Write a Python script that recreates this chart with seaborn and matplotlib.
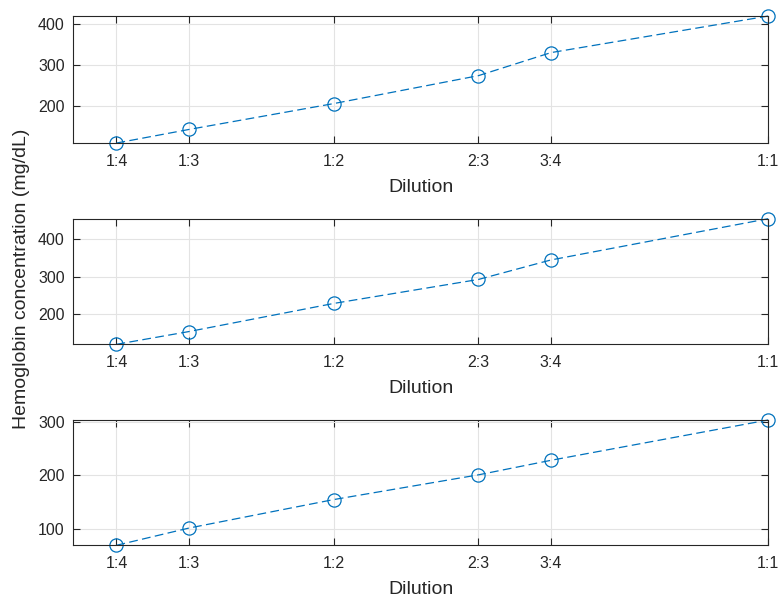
import numpy as np
import pandas as pd
import matplotlib
matplotlib.use('Agg')
import matplotlib.pyplot as plt
import seaborn as sns

# ---------------------------------------------------------
# Data
# ---------------------------------------------------------
dilution_labels = ['1:4', '1:3', '1:2', '2:3', '3:4', '1:1']
dilution_values = [1/4, 1/3, 1/2, 2/3, 3/4, 1.0]

hb_panel1 = [110, 143, 206, 274, 330, 419]
hb_panel2 = [120, 154, 229, 293, 345, 455]
hb_panel3 = [70, 102, 155, 201, 228, 303]

yticks_panel1 = [200, 300, 400]
yticks_panel2 = [200, 300, 400]
yticks_panel3 = [100, 200, 300]

line_color = '#0072BD'
text_color = '#262626'

sns.set_theme(style='whitegrid')
plt.rcParams['font.family'] = ['Liberation Sans', 'DejaVu Sans']

fig = plt.figure(figsize=(7.81, 6.01), dpi=100)

# axes boxes in figure coordinates [left, bottom, width, height]
positions = [
    [0.0935, 0.762, 0.890, 0.2113],
    [0.0935, 0.4271, 0.890, 0.209],
    [0.0935, 0.0927, 0.890, 0.2085],
]
panels = [hb_panel1, hb_panel2, hb_panel3]
yticks_all = [yticks_panel1, yticks_panel2, yticks_panel3]

for pos, values, yticks in zip(positions, panels, yticks_all):
    ax = fig.add_axes(pos)
    df = pd.DataFrame({'dilution': dilution_values, 'hb': values})
    sns.lineplot(data=df, x='dilution', y='hb', ax=ax, color=line_color,
                 linestyle=(0, (7, 3.5)), linewidth=0.9, marker='o',
                 markersize=9.5, markerfacecolor='none',
                 markeredgecolor=line_color, markeredgewidth=0.9,
                 clip_on=False)
    ax.set_xlim(0.2, 1.0)
    ax.set_ylim(min(values), max(values))
    ax.set_xticks(dilution_values)
    ax.set_xticklabels(dilution_labels)
    ax.set_yticks(yticks)
    ax.set_xlabel('Dilution', fontsize=14, color=text_color, labelpad=7)
    ax.set_ylabel('')
    ax.set_facecolor('white')
    ax.grid(True, color='#e3e3e3', linewidth=0.8)
    ax.tick_params(axis='both', which='both', direction='in', length=5,
                   width=0.8, colors=text_color, labelsize=11.5,
                   top=True, right=True, bottom=True, left=True, pad=6)
    ax.tick_params(axis='x', pad=8)
    for s in ax.spines.values():
        s.set_visible(True)
        s.set_color(text_color)
        s.set_linewidth(0.8)

fig.text(0.028, 0.536, 'Hemoglobin concentration (mg/dL)', rotation=90,
         ha='center', va='center', fontsize=14, color=text_color)

fig.savefig('out.png', dpi=100)
